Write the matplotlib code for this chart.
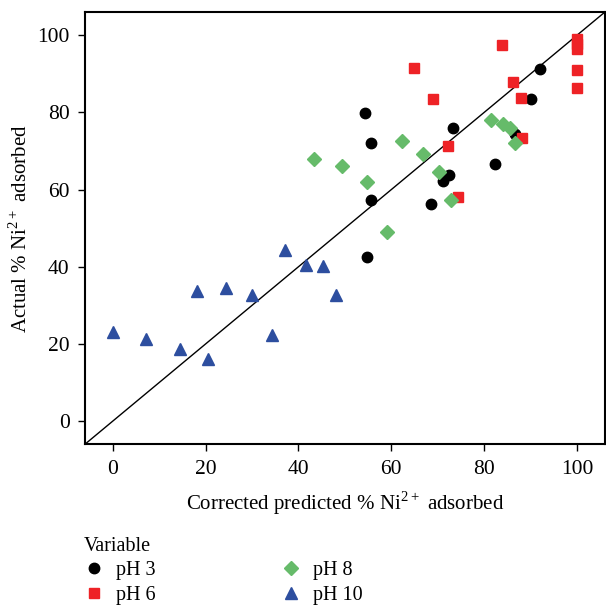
import numpy as np
import matplotlib
matplotlib.use("Agg")
import matplotlib.pyplot as plt

plt.rcParams['font.family'] = ['Liberation Serif', 'DejaVu Serif']
plt.rcParams['mathtext.fontset'] = 'custom'
plt.rcParams['mathtext.rm'] = 'Liberation Serif'

# pH 3
ph3_x = [54.4, 55.7, 55.7, 54.8, 73.3, 92.0, 90.1, 82.4, 72.5, 71.2, 68.6, 86.7]
ph3_y = [79.9, 72.2, 57.2, 42.6, 76.1, 91.2, 83.5, 66.7, 63.9, 62.3, 56.2, 74.4]
# pH 6
ph6_x = [64.9, 83.9, 69.0, 86.2, 88.0, 88.2, 72.3, 74.4, 100, 100, 100, 100, 100]
ph6_y = [91.5, 97.4, 83.5, 87.9, 83.8, 73.4, 71.4, 58.2, 99.0, 97.7, 96.4, 90.9, 86.4]
# pH 8
ph8_x = [43.4, 49.5, 54.8, 62.4, 66.9, 70.2, 72.9, 59.0, 81.5, 84.1, 85.6, 86.6]
ph8_y = [67.9, 66.0, 61.9, 72.6, 69.3, 64.5, 57.2, 48.9, 78.1, 76.9, 76.0, 72.2]
# pH 10
ph10_x = [0.0, 7.2, 14.5, 20.6, 18.1, 24.5, 29.9, 34.3, 37.2, 41.7, 45.3, 48.0]
ph10_y = [23.2, 21.3, 18.7, 16.2, 33.8, 34.5, 32.7, 22.4, 44.3, 40.6, 40.3, 32.6]

fig = plt.figure(figsize=(6.06, 6.07), dpi=100)
ax = fig.add_axes([0.140, 0.268, 0.858, 0.712])

ax.axline((0, 0), slope=1, color='black', lw=1)

ax.plot(ph3_x, ph3_y, 'o', color='black', ms=7.5, label='pH 3', ls='none')
ax.plot(ph6_x, ph6_y, 's', color='#ee2226', ms=7, label='pH 6', ls='none')
ax.plot(ph8_x, ph8_y, 'D', color='#66bb6a', ms=6.8, label='pH 8', ls='none')
ax.plot(ph10_x, ph10_y, '^', color='#2d4e9f', ms=8.5, label='pH 10', ls='none')

ax.set_xlim(-6, 106)
ax.set_ylim(-6, 106)
ax.set_xticks(np.arange(0, 101, 20))
ax.set_yticks(np.arange(0, 101, 20))
ax.tick_params(direction='out', length=5, width=1, labelsize=15.5, pad=6)
for s in ax.spines.values():
    s.set_linewidth(1.5)

ax.set_xlabel('Corrected predicted % Ni$^{2+}$ adsorbed', fontsize=15, labelpad=8)
ax.set_ylabel('Actual % Ni$^{2+}$ adsorbed', fontsize=15, labelpad=4)

# legend order: col1 = pH 3, pH 6 ; col2 = pH 8, pH 10
leg = fig.legend(loc='upper left', bbox_to_anchor=(0.125, 0.128), ncol=2,
                 frameon=False, title='Variable', fontsize=14.5, title_fontsize=14.5,
                 alignment='left', columnspacing=6.2, handletextpad=0.6,
                 labelspacing=0.25, borderaxespad=0, handlelength=1.0)

plt.savefig('out.png', dpi=100)
